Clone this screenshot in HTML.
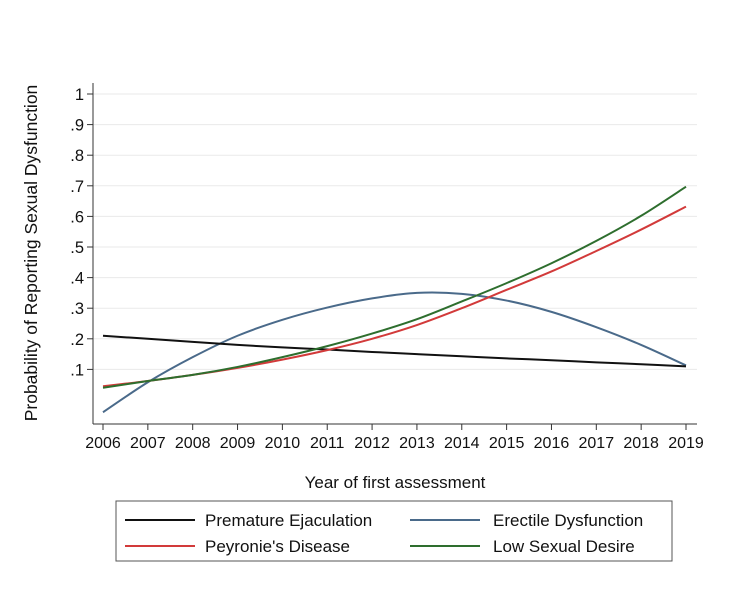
<!DOCTYPE html>
<html><head><meta charset="utf-8"><style>
body{margin:0;background:#fff;}
svg{display:block;font-family:"Liberation Sans",Arial,sans-serif;}
</style></head><body>
<svg width="748" height="601">
<g id="grid"></g>
<g id="yaxis"></g>
<g id="xaxis"></g>
<g id="series"></g>
<text transform="translate(37,253) rotate(-90)" text-anchor="middle" font-size="17.5" fill="#111">Probability of Reporting Sexual Dysfunction</text>
<text x="395" y="488" text-anchor="middle" font-size="17" fill="#111">Year of first assessment</text>
<g>
<rect x="116" y="501" width="556" height="60" fill="#fff" stroke="#555" stroke-width="1"/>
<g><line x1="125" y1="520" x2="195" y2="520" stroke="#111" stroke-width="2"/><text x="205" y="526" font-size="17" fill="#111">Premature Ejaculation</text></g>
<g><line x1="125" y1="546" x2="195" y2="546" stroke="#d23a3a" stroke-width="2"/><text x="205" y="552" font-size="17" fill="#111">Peyronie's Disease</text></g>
<g><line x1="410" y1="520" x2="480" y2="520" stroke="#4a6a8a" stroke-width="2"/><text x="493" y="526" font-size="17" fill="#111">Erectile Dysfunction</text></g>
<g><line x1="410" y1="546" x2="480" y2="546" stroke="#2e6e2e" stroke-width="2"/><text x="493" y="552" font-size="17" fill="#111">Low Sexual Desire</text></g>
</g>
</svg>
<script>
const years=[2006,2007,2008,2009,2010,2011,2012,2013,2014,2015,2016,2017,2018,2019];
const yTicks=[0.1,0.2,0.3,0.4,0.5,0.6,0.7,0.8,0.9,1];
const yTickLabels=[".1",".2",".3",".4",".5",".6",".7",".8",".9","1"];
const premature=[0.21,0.2,0.19,0.18,0.172,0.165,0.157,0.15,0.143,0.136,0.13,0.123,0.117,0.11];
const erectile=[-0.04,0.058,0.14,0.21,0.262,0.302,0.332,0.35,0.347,0.325,0.288,0.238,0.18,0.113];
const peyronie=[0.045,0.062,0.082,0.105,0.132,0.163,0.2,0.245,0.3,0.36,0.42,0.487,0.557,0.632];
const lowDesire=[0.04,0.062,0.082,0.108,0.14,0.176,0.217,0.264,0.322,0.382,0.447,0.52,0.602,0.697];
const NS="http://www.w3.org/2000/svg";
function X(v){return 103+(v-2006)*(686-103)/13;}
function Y(v){return 400-v*306;}
function mk(t,a,p){const e=document.createElementNS(NS,t);for(const k in a)e.setAttribute(k,a[k]);p.appendChild(e);return e;}
const grid=document.getElementById('grid'),ya=document.getElementById('yaxis'),xa=document.getElementById('xaxis'),sg=document.getElementById('series');
yTicks.forEach((v,i)=>{
 const g=mk('line',{x1:93,x2:697,y1:Y(v),y2:Y(v),stroke:'#eaeaea','stroke-width':1},grid);
 
 
 mk('line',{x1:87,x2:93,y1:Y(v),y2:Y(v),stroke:'#333'},ya);
 const t=mk('text',{x:84,y:Y(v)+6,'text-anchor':'end','font-size':16.5,fill:'#111'},ya);
 t.textContent=yTickLabels[i];
 
 
});
mk('line',{x1:93,x2:93,y1:83,y2:424,stroke:'#333'},ya);
mk('line',{x1:93,x2:697,y1:424,y2:424,stroke:'#333'},xa);
years.forEach(v=>{
 mk('line',{x1:X(v),x2:X(v),y1:424,y2:430,stroke:'#333'},xa);
 const t=mk('text',{x:X(v),y:448,'text-anchor':'middle','font-size':16,fill:'#111'},xa);
 t.textContent=v;
 
 
});
function path(vals){
 const p=vals.map((v,i)=>[X(years[i]),Y(v)]);
 let d='M'+p[0][0]+','+p[0][1];
 for(let i=0;i<p.length-1;i++){
  const p0=p[Math.max(0,i-1)],p1=p[i],p2=p[i+1],p3=p[Math.min(p.length-1,i+2)];
  const c1=[p1[0]+(p2[0]-p0[0])/6,p1[1]+(p2[1]-p0[1])/6],c2=[p2[0]-(p3[0]-p1[0])/6,p2[1]-(p3[1]-p1[1])/6];
  d+=' C'+c1+' '+c2+' '+p2;
 }
 return d;
}
[[erectile,'#4a6a8a','erectile-line'],[premature,'#111','premature-line'],[peyronie,'#d23a3a','peyronie-line'],[lowDesire,'#2e6e2e','low-desire-line']].forEach(s=>{
 const e=mk('path',{d:path(s[0]),fill:'none',stroke:s[1],'stroke-width':2},sg);
 
 
});
</script>
</body></html>
